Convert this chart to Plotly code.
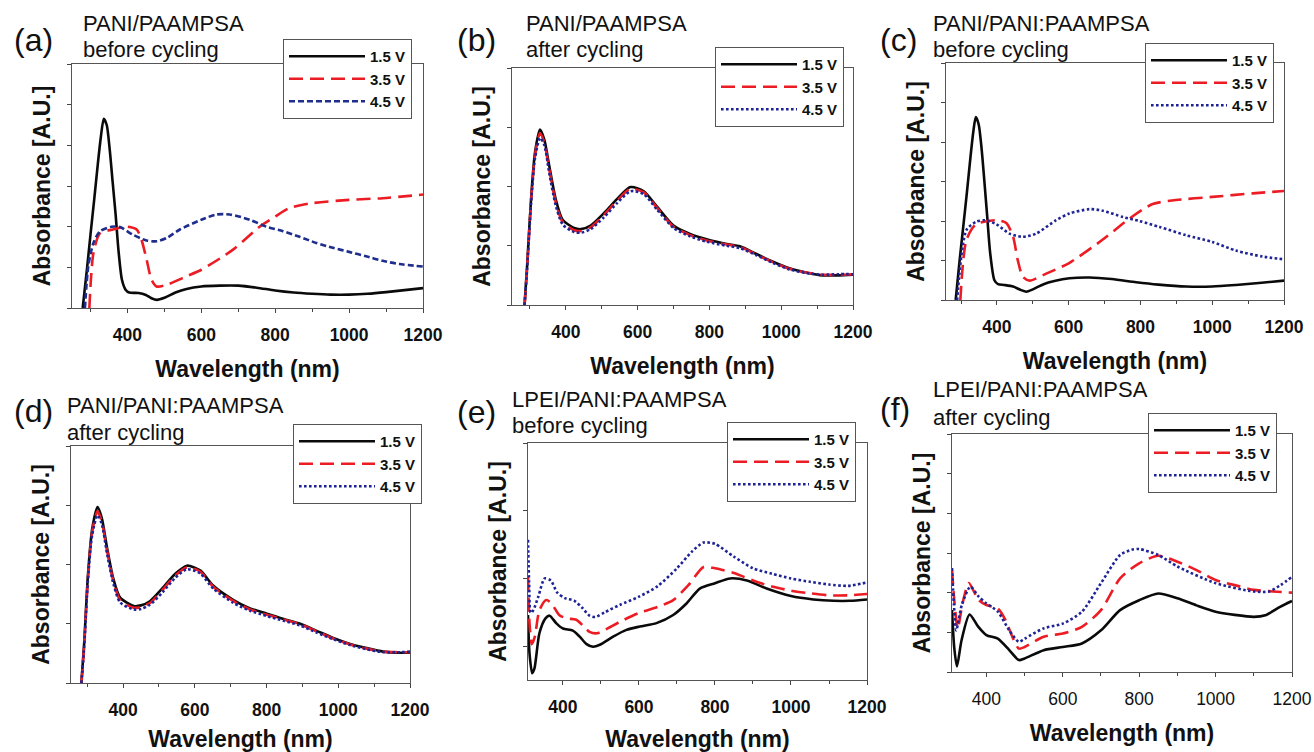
import plotly.graph_objects as go

# ---------------- data ----------------
# (a) PANI/PAAMPSA before cycling
a_x_15 = [279, 291, 300, 310, 320, 328, 336, 344, 352, 360, 368, 376, 385, 395, 405, 430, 450, 465, 480, 500, 530, 560, 600, 650, 700, 750, 800, 850, 900, 950, 1000, 1050, 1100, 1150, 1200]
a_y_15 = [0.0, 1.0, 1.8, 2.66, 3.55, 4.2, 4.65, 4.5, 3.9, 3.1, 2.3, 1.4, 0.7, 0.45, 0.38, 0.37, 0.32, 0.24, 0.2, 0.25, 0.38, 0.47, 0.53, 0.55, 0.55, 0.5, 0.43, 0.38, 0.35, 0.33, 0.33, 0.35, 0.39, 0.44, 0.49]
a_x_35 = [297, 308, 326, 361, 398, 425, 438, 452, 465, 479, 506, 560, 600, 685, 758, 800, 839, 893, 1000, 1091, 1200]
a_y_35 = [0.0, 1.35, 1.84, 1.93, 2.0, 1.93, 1.68, 1.19, 0.7, 0.53, 0.57, 0.78, 0.94, 1.43, 2.0, 2.25, 2.46, 2.57, 2.66, 2.7, 2.79]
a_x_45 = [285, 294, 308, 326, 357, 380, 415, 452, 479, 506, 542, 600, 641, 677, 731, 776, 821, 866, 911, 956, 1000, 1046, 1091, 1136, 1200]
a_y_45 = [0.0, 1.02, 1.6, 1.89, 2.0, 1.99, 1.8, 1.66, 1.64, 1.72, 1.93, 2.17, 2.3, 2.3, 2.17, 2.0, 1.89, 1.75, 1.6, 1.48, 1.38, 1.27, 1.16, 1.08, 1.02]

# (b) PANI/PAAMPSA after cycling
b_x = [285, 292, 303, 314, 328, 340, 354, 372, 391, 423, 442, 469, 506, 543, 580, 617, 654, 700, 746, 792, 848, 885, 931, 977, 1023, 1069, 1115, 1161, 1200]
b_y_15 = [0.0, 0.65, 1.78, 2.57, 2.96, 2.79, 2.34, 1.78, 1.44, 1.3, 1.28, 1.34, 1.55, 1.79, 1.99, 1.92, 1.66, 1.34, 1.2, 1.11, 1.03, 0.99, 0.86, 0.73, 0.62, 0.55, 0.5, 0.5, 0.51]
b_y_35 = [0.0, 0.62, 1.74, 2.52, 2.9, 2.74, 2.28, 1.73, 1.4, 1.26, 1.25, 1.31, 1.52, 1.76, 1.96, 1.9, 1.64, 1.32, 1.18, 1.09, 1.02, 0.98, 0.85, 0.72, 0.61, 0.55, 0.51, 0.51, 0.52]
b_y_45 = [0.0, 0.6, 1.7, 2.47, 2.82, 2.7, 2.22, 1.68, 1.36, 1.23, 1.22, 1.28, 1.48, 1.72, 1.92, 1.87, 1.61, 1.3, 1.16, 1.07, 1.0, 0.96, 0.84, 0.71, 0.6, 0.54, 0.51, 0.52, 0.52]

# (c) PANI/PANI:PAAMPSA before cycling
c_x_15 = [285, 296, 306, 316, 326, 334, 341, 349, 357, 365, 373, 381, 393, 403, 420, 445, 465, 482, 500, 530, 560, 602, 658, 720, 788, 850, 927, 1000, 1066, 1130, 1200]
c_y_15 = [0.0, 1.0, 1.85, 2.7, 3.6, 4.25, 4.63, 4.45, 3.85, 3.0, 2.1, 1.2, 0.5, 0.4, 0.38, 0.34, 0.26, 0.21, 0.27, 0.4, 0.48, 0.55, 0.57, 0.53, 0.45, 0.39, 0.34, 0.34, 0.38, 0.43, 0.49]
c_x_35 = [298, 315, 342, 400, 426, 445, 458, 472, 491, 528, 600, 695, 769, 834, 899, 1000, 1113, 1200]
c_y_35 = [0.0, 1.52, 1.92, 2.02, 1.95, 1.6, 1.01, 0.59, 0.49, 0.63, 0.93, 1.53, 2.06, 2.43, 2.53, 2.61, 2.7, 2.76]
c_x_45 = [289, 315, 342, 366, 398, 435, 472, 509, 565, 602, 658, 695, 751, 797, 853, 927, 1000, 1066, 1140, 1200]
c_y_45 = [0.0, 1.77, 1.98, 2.02, 1.92, 1.68, 1.6, 1.68, 2.02, 2.19, 2.3, 2.26, 2.1, 2.0, 1.85, 1.64, 1.47, 1.25, 1.1, 1.03]

# (d) PANI/PANI:PAAMPSA after cycling
d_x = [284, 292, 302, 314, 329, 341, 355, 373, 392, 430, 450, 475, 510, 545, 578, 615, 652, 708, 754, 801, 848, 894, 940, 986, 1033, 1079, 1125, 1172, 1200]
d_y_15 = [0.0, 0.7, 1.8, 2.6, 2.97, 2.78, 2.3, 1.76, 1.44, 1.3, 1.31, 1.38, 1.6, 1.84, 1.98, 1.9, 1.64, 1.4, 1.26, 1.17, 1.08, 1.0, 0.88, 0.76, 0.66, 0.59, 0.53, 0.51, 0.51]
d_y_35 = [0.0, 0.66, 1.76, 2.55, 2.9, 2.72, 2.25, 1.72, 1.4, 1.27, 1.28, 1.35, 1.57, 1.81, 1.95, 1.88, 1.62, 1.38, 1.24, 1.15, 1.07, 0.99, 0.87, 0.75, 0.65, 0.58, 0.53, 0.52, 0.52]
d_y_45 = [0.0, 0.63, 1.72, 2.5, 2.83, 2.68, 2.2, 1.68, 1.36, 1.24, 1.25, 1.32, 1.53, 1.77, 1.92, 1.85, 1.59, 1.35, 1.22, 1.13, 1.05, 0.97, 0.85, 0.74, 0.64, 0.57, 0.52, 0.52, 0.53]

# (e) LPEI/PANI:PAAMPSA before cycling
e_x_15 = [308, 312, 319, 325, 338, 354, 365, 382, 400, 426, 444, 462, 479, 497, 532, 567, 602, 646, 690, 725, 760, 800, 840, 884, 936, 1000, 1059, 1112, 1156, 1200]
e_y_15 = [1.46, 0.89, 0.6, 0.67, 1.19, 1.41, 1.45, 1.34, 1.26, 1.23, 1.14, 1.03, 0.99, 1.02, 1.14, 1.24, 1.29, 1.34, 1.46, 1.63, 1.85, 1.93, 2.0, 1.97, 1.85, 1.74, 1.69, 1.67, 1.67, 1.69]
e_x_35 = [308, 312, 318, 326, 338, 356, 370, 390, 410, 435, 455, 470, 490, 510, 550, 600, 650, 690, 730, 770, 800, 850, 900, 950, 1000, 1050, 1100, 1150, 1200]
e_y_35 = [2.03, 1.34, 1.03, 1.14, 1.53, 1.68, 1.63, 1.46, 1.41, 1.39, 1.29, 1.21, 1.19, 1.24, 1.36, 1.49, 1.58, 1.68, 1.9, 2.17, 2.15, 2.08, 1.97, 1.88, 1.82, 1.78, 1.75, 1.75, 1.77]
e_x_45 = [308, 311, 315, 322, 335, 352, 368, 385, 405, 430, 450, 470, 485, 510, 550, 600, 650, 700, 740, 770, 800, 850, 900, 950, 1000, 1050, 1100, 1150, 1200]
e_y_45 = [2.57, 1.93, 1.49, 1.53, 1.73, 2.0, 1.97, 1.79, 1.71, 1.67, 1.57, 1.45, 1.43, 1.5, 1.61, 1.73, 1.89, 2.15, 2.4, 2.53, 2.51, 2.32, 2.15, 2.07, 2.0, 1.95, 1.91, 1.89, 1.94]

# (f) LPEI/PANI:PAAMPSA after cycling
f_x_15 = [310, 316, 323, 335, 356, 378, 400, 430, 460, 485, 500, 550, 600, 650, 700, 750, 800, 850, 900, 950, 1000, 1050, 1100, 1130, 1170, 1200]
f_y_15 = [1.56, 0.6, 0.14, 0.8, 1.45, 1.15, 0.93, 0.84, 0.55, 0.3, 0.34, 0.55, 0.63, 0.72, 1.05, 1.56, 1.81, 1.98, 1.86, 1.68, 1.52, 1.44, 1.39, 1.43, 1.65, 1.79]
f_x_35 = [310, 317, 325, 338, 354, 380, 400, 430, 450, 470, 485, 500, 550, 600, 650, 700, 750, 800, 850, 900, 950, 1000, 1050, 1100, 1150, 1200]
f_y_35 = [2.57, 1.7, 1.1, 1.75, 2.24, 1.81, 1.69, 1.6, 1.31, 0.84, 0.59, 0.63, 0.89, 0.97, 1.14, 1.56, 2.36, 2.74, 2.93, 2.78, 2.57, 2.32, 2.19, 2.07, 2.03, 2.0]
f_x_45 = [310, 315, 321, 336, 358, 380, 400, 430, 460, 485, 500, 550, 600, 650, 700, 750, 780, 800, 850, 900, 1000, 1100, 1140, 1170, 1200]
f_y_45 = [2.62, 1.7, 1.05, 1.7, 2.15, 1.9, 1.73, 1.52, 1.05, 0.76, 0.84, 1.1, 1.22, 1.52, 2.24, 2.95, 3.08, 3.1, 2.95, 2.66, 2.24, 2.03, 2.03, 2.19, 2.4]

series_names = ["1.5 V", "3.5 V", "4.5 V"]
x_tick_vals = [400, 600, 800, 1000, 1200]
x_tick_text = ["400", "600", "800", "1000", "1200"]
x_title = "Wavelength (nm)"
y_title = "Absorbance [A.U.]"
panel_letters = ["(a)", "(b)", "(c)", "(d)", "(e)", "(f)"]
panel_line1 = ["PANI/PAAMPSA", "PANI/PAAMPSA", "PANI/PANI:PAAMPSA", "PANI/PANI:PAAMPSA", "LPEI/PANI:PAAMPSA", "LPEI/PANI:PAAMPSA"]
panel_line2 = ["before cycling", "after cycling", "before cycling", "after cycling", "before cycling", "after cycling"]

# ---------------- styling / layout ----------------
W, H = 1314, 752
FONT = "Liberation Sans, Arial, sans-serif"


def fx(p):
    return p / W


def fy(p):
    return 1 - p / H


BLACK = dict(color="#0a0a0a", width=2.6)
RED = dict(color="#ec1c24", width=2.6, dash="14px,7px")
BLUE_DOT = dict(color="#1e2396", width=2.6, dash="2.6px,2.4px")
BLUE_DASH = dict(color="#1f2d8c", width=2.6, dash="6px,3px")

panels = [
    dict(data=[(a_x_15, a_y_15), (a_x_35, a_y_35), (a_x_45, a_y_45)], blue=BLUE_DASH,
         xr=[250, 1200], yr=[0, 6], dom=(72, 423, 64, 308), leg=(283, 39),
         letter=(12, 40), l1=(81, 24), l2=(81, 50), boldticks=True),
    dict(data=[(b_x, b_y_15), (b_x, b_y_35), (b_x, b_y_45)], blue=BLUE_DOT,
         xr=[250, 1200], yr=[0, 4], dom=(512, 853, 68, 305), leg=(715, 47),
         letter=(455, 40), l1=(524, 24), l2=(524, 50), boldticks=True),
    dict(data=[(c_x_15, c_y_15), (c_x_35, c_y_35), (c_x_45, c_y_45)], blue=BLUE_DOT,
         xr=[258, 1200], yr=[0, 6], dom=(946, 1284, 63, 300), leg=(1145, 43),
         letter=(878, 40), l1=(931, 24), l2=(931, 50), boldticks=True),
    dict(data=[(d_x, d_y_15), (d_x, d_y_35), (d_x, d_y_45)], blue=BLUE_DOT,
         xr=[255, 1200], yr=[0, 4], dom=(71, 410, 446, 683), leg=(293, 424),
         letter=(12, 411), l1=(65, 405), l2=(65, 432), boldticks=True),
    dict(data=[(e_x_15, e_y_15), (e_x_35, e_y_35), (e_x_45, e_y_45)], blue=BLUE_DOT,
         xr=[308, 1200], yr=[0.5, 4], dom=(528, 867, 443, 680), leg=(727, 422),
         letter=(455, 412), l1=(510, 399), l2=(510, 425), boldticks=True),
    dict(data=[(f_x_15, f_y_15), (f_x_35, f_y_35), (f_x_45, f_y_45)], blue=BLUE_DOT,
         xr=[310, 1200], yr=[0, 6], dom=(952, 1292, 434, 672), leg=(1148, 413),
         letter=(878, 409), l1=(931, 390), l2=(931, 417), boldticks=False),
]

fig = go.Figure()
annotations = []
layout = dict(
    width=W, height=H, autosize=False,
    margin=dict(l=0, r=0, t=0, b=0, pad=0, autoexpand=False),
    paper_bgcolor="white", plot_bgcolor="white",
    font=dict(family=FONT, color="#111111"),
    showlegend=True,
)

for i, p in enumerate(panels):
    k = "" if i == 0 else str(i + 1)
    xa, ya = "x" + k, "y" + k
    leg = "legend" + k
    styles = [BLACK, RED, p["blue"]]
    for (xs, ys), nm, st in zip(p["data"], series_names, styles):
        fig.add_trace(go.Scatter(
            x=xs, y=ys, name=nm, mode="lines", line=dict(shape="spline", smoothing=0.7, **st),
            xaxis=xa, yaxis=ya, legend=leg, showlegend=True,
        ))
    l, r, t, b = p["dom"]
    layout["xaxis" + k] = dict(
        domain=[fx(l), fx(r)], range=p["xr"], anchor=ya, automargin=False,
        tickvals=x_tick_vals, ticktext=x_tick_text, ticks="outside", ticklen=4,
        tickcolor="#444", tickwidth=1, ticklabelstandoff=7,
        tickfont=dict(size=17.5, family=FONT, color="#111", weight="bold" if p["boldticks"] else "normal"),
        minor=dict(dtick=100, tick0=0, ticks="outside", ticklen=3, tickcolor="#444", showgrid=False),
        showline=True, linecolor="#555", linewidth=1, mirror=True,
        showgrid=False, zeroline=False,
        title=dict(text=x_title, font=dict(size=23, family=FONT, color="#111", weight="bold"), standoff=16),
    )
    layout["yaxis" + k] = dict(
        domain=[fy(b), fy(t)], range=p["yr"], anchor=xa, automargin=False,
        tick0=0, dtick=1, ticks="outside", ticklen=4, tickcolor="#444", tickwidth=1,
        showticklabels=False,
        showline=True, linecolor="#555", linewidth=1, mirror=True,
        showgrid=False, zeroline=False,
        title=dict(text=y_title, font=dict(size=23, family=FONT, color="#111", weight="bold"), standoff=9),
    )
    lx, ly = p["leg"]
    layout[leg] = dict(
        x=fx(lx), y=fy(ly), xanchor="left", yanchor="top",
        bgcolor="white", bordercolor="#555", borderwidth=1,
        font=dict(size=15, family=FONT, color="#111", weight="bold"),
        itemwidth=76, tracegroupgap=0,
    )
    annotations.append(dict(text=panel_letters[i], x=fx(p["letter"][0]), y=fy(p["letter"][1]),
                            xref="paper", yref="paper", xanchor="left", yanchor="middle",
                            showarrow=False, font=dict(size=32, family=FONT, color="#111")))
    annotations.append(dict(text=panel_line1[i], x=fx(p["l1"][0]), y=fy(p["l1"][1]),
                            xref="paper", yref="paper", xanchor="left", yanchor="middle",
                            showarrow=False, font=dict(size=22, family=FONT, color="#111")))
    annotations.append(dict(text=panel_line2[i], x=fx(p["l2"][0]), y=fy(p["l2"][1]),
                            xref="paper", yref="paper", xanchor="left", yanchor="middle",
                            showarrow=False, font=dict(size=22, family=FONT, color="#111")))

layout["annotations"] = annotations
fig.update_layout(**layout)

post_js = (
    "document.documentElement.style.margin='0';document.documentElement.style.overflow='hidden';"
    "document.body.style.margin='0';document.body.style.padding='0';document.body.style.overflow='hidden';"
)
fig.write_html(
    "out.html",
    config={"responsive": False, "displayModeBar": False},
    default_width="1314px", default_height="752px",
    post_script=post_js,
)
